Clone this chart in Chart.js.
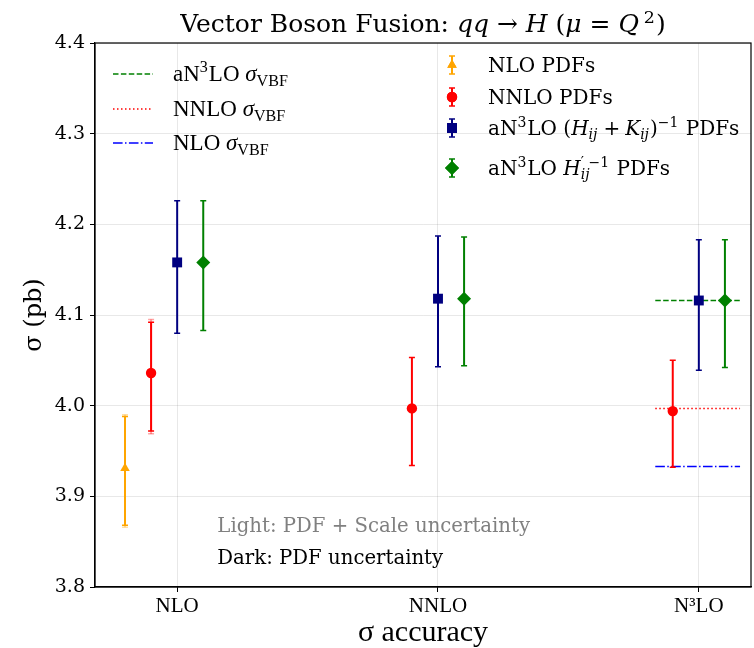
<!DOCTYPE html>
<html>
<head>
<meta charset="utf-8">
<script src="https://cdn.jsdelivr.net/npm/chart.js@4"></script>
<style>
  html, body { margin: 0; padding: 0; background: #fff; }
  #wrap { width: 754px; height: 648px; }
</style>
</head>
<body>
<div id="wrap"><canvas id="vbf-chart"></canvas></div>
<script>
const categories = ['NLO', 'NNLO', 'N³LO'];
const yTicks = [3.8, 3.9, 4.0, 4.1, 4.2, 4.3, 4.4];

// NLO PDFs (only evaluated with the NLO cross section)
const nloPdfCentral = [3.931, null, null];
const nloPdfLow = [3.868, null, null];
const nloPdfHigh = [3.988, null, null];
const nloPdfLightLow = [3.866, null, null];
const nloPdfLightHigh = [3.990, null, null];

// NNLO PDFs
const nnloPdfCentral = [4.036, 3.997, 3.994];
const nnloPdfLow = [3.972, 3.934, 3.932];
const nnloPdfHigh = [4.092, 4.053, 4.050];
const nnloPdfLightLow = [3.969, null, null];
const nnloPdfLightHigh = [4.095, null, null];

// aN3LO (H+K)^-1 PDFs
const hkPdfCentral = [4.158, 4.118, 4.116];
const hkPdfLow = [4.080, 4.043, 4.039];
const hkPdfHigh = [4.226, 4.187, 4.183];

// aN3LO H'^-1 PDFs
const hPdfCentral = [4.158, 4.118, 4.116];
const hPdfLow = [4.083, 4.044, 4.042];
const hPdfHigh = [4.226, 4.186, 4.183];

// reference cross sections drawn at the N3LO column
const vbfLabels = ['aN3LO', 'NNLO', 'NLO'];
const vbfSigma = [4.116, 3.997, 3.933];

const SERIF = 'DejaVu Serif';
const CM = 'Liberation Serif';
const dodge = [-0.2, -0.1, 0, 0.1];
const PLOT_RIGHT = 751;

const toPoints = (vals, off) => vals
  .map((v, i) => v === null ? null : { x: i + off, y: v })
  .filter(p => p !== null);

const withAlpha = (hex, a) => {
  const n = parseInt(hex.slice(1), 16);
  return `rgba(${n >> 16}, ${(n >> 8) & 255}, ${n & 255}, ${a})`;
};

const pdfSeries = [
  { label: 'NLO PDFs', color: '#FFA500', style: 'triangle', radius: 5.5,
    central: nloPdfCentral, low: nloPdfLow, high: nloPdfHigh, lightLow: nloPdfLightLow, lightHigh: nloPdfLightHigh },
  { label: 'NNLO PDFs', color: '#FF0000', style: 'circle', radius: 5.2,
    central: nnloPdfCentral, low: nnloPdfLow, high: nnloPdfHigh, lightLow: nnloPdfLightLow, lightHigh: nnloPdfLightHigh },
  { label: 'aN3LO (H+K)^-1 PDFs', color: '#000080', style: 'rect', radius: 7,
    central: hkPdfCentral, low: hkPdfLow, high: hkPdfHigh },
  { label: "aN3LO H'^-1 PDFs", color: '#008000', style: 'rectRot', radius: 7,
    central: hPdfCentral, low: hPdfLow, high: hPdfHigh }
];

const vbfStyles = [
  { color: '#008000', dash: [5.5, 2.4] },
  { color: '#FF0000', dash: [1.5, 2.5] },
  { color: '#0000FF', dash: [9.6, 2.4, 1.5, 2.4] }
];

const datasets = [];
pdfSeries.forEach((s, k) => {
  datasets.push({
    label: s.label,
    data: toPoints(s.central, dodge[k]),
    pointStyle: s.style,
    pointRadius: s.radius,
    pointHoverRadius: s.radius,
    backgroundColor: s.color,
    borderColor: s.color,
    borderWidth: 0,
    order: 0,
    errSeries: k
  });
});
vbfSigma.forEach((v, k) => {
  datasets.push({
    label: vbfLabels[k],
    type: 'line',
    data: [{ x: 2 - 0.167, y: v }, { x: 2 + 0.158, y: v }],
    borderColor: vbfStyles[k].color,
    borderDash: vbfStyles[k].dash,
    borderWidth: 1.5,
    pointRadius: 0,
    fill: false,
    order: 1
  });
});

// rich text: segments {t, it} or {sup, sub, it, supUp}
const fontOf = (it, size, family) => `${it ? 'italic ' : ''}${size}px "${family}"`;

const richWidth = (ctx, segs, size, family) => {
  let w = 0;
  segs.forEach(s => {
    if (s.t !== undefined) {
      ctx.font = fontOf(s.it, size, family);
      w += ctx.measureText(s.t).width;
    } else {
      const small = size * 0.7;
      let a = 0, b = 0;
      if (s.sup) { ctx.font = fontOf(s.it && !s.supUp, small, family); a = ctx.measureText(s.sup).width; }
      if (s.sub) { ctx.font = fontOf(s.it, small, family); b = ctx.measureText(s.sub).width; }
      w += Math.max(a, b) + 1;
    }
  });
  return w;
};

const drawRich = (ctx, segs, x, y, size, family, color, align) => {
  ctx.save();
  ctx.fillStyle = color;
  ctx.textBaseline = 'alphabetic';
  ctx.textAlign = 'left';
  let cx = align === 'center' ? x - richWidth(ctx, segs, size, family) / 2 : x;
  segs.forEach(s => {
    if (s.t !== undefined) {
      ctx.font = fontOf(s.it, size, family);
      ctx.fillText(s.t, cx, y);
      cx += ctx.measureText(s.t).width;
    } else {
      const small = size * 0.7;
      let w = 0;
      if (s.sup) {
        ctx.font = fontOf(s.it && !s.supUp, small, family);
        ctx.fillText(s.sup, cx, y - size * 0.38);
        w = Math.max(w, ctx.measureText(s.sup).width);
      }
      if (s.sub) {
        ctx.font = fontOf(s.it, small, family);
        ctx.fillText(s.sub, cx, y + size * 0.22);
        w = Math.max(w, ctx.measureText(s.sub).width);
      }
      cx += w + 1;
    }
  });
  ctx.restore();
};

const drawErrorBar = (ctx, x, yLo, yHi, color) => {
  ctx.strokeStyle = color;
  ctx.lineWidth = 2;
  ctx.beginPath();
  ctx.moveTo(x, yLo);
  ctx.lineTo(x, yHi);
  ctx.stroke();
  ctx.lineWidth = 1.5;
  ctx.beginPath();
  ctx.moveTo(x - 3, yLo); ctx.lineTo(x + 3, yLo);
  ctx.moveTo(x - 3, yHi); ctx.lineTo(x + 3, yHi);
  ctx.stroke();
};

// stretch the plot area to the right edge used by the original figure
const plotAreaPlugin = {
  id: 'plotArea',
  afterLayout(chart) {
    const x = chart.scales.x;
    const a = chart.chartArea;
    x.right = PLOT_RIGHT;
    x.width = x.right - x.left;
    x.configure();
    a.right = PLOT_RIGHT;
    a.width = a.right - a.left;
  }
};

const errorBarPlugin = {
  id: 'errorBars',
  beforeDatasetDraw(chart, args) {
    const ds = chart.data.datasets[args.index];
    if (ds.errSeries === undefined) return;
    const s = pdfSeries[ds.errSeries];
    const { ctx, scales: { x, y } } = chart;
    ctx.save();
    s.central.forEach((v, i) => {
      if (v === null) return;
      const px = x.getPixelForValue(i + dodge[ds.errSeries]);
      if (s.lightLow && s.lightLow[i] !== null) {
        drawErrorBar(ctx, px, y.getPixelForValue(s.lightLow[i]), y.getPixelForValue(s.lightHigh[i]), withAlpha(s.color, 0.35));
      }
      drawErrorBar(ctx, px, y.getPixelForValue(s.low[i]), y.getPixelForValue(s.high[i]), s.color);
    });
    ctx.restore();
  }
};

const titleSegs = [
  { t: 'Vector Boson Fusion: ' }, { t: 'qq', it: true }, { t: ' → ' }, { t: 'H', it: true },
  { t: ' (' }, { t: 'μ', it: true }, { t: ' = ' }, { t: 'Q', it: true }, { t: '\u2009' }, { sup: '2' }, { t: ')' }
];

const vbfLegend = [
  [{ t: 'aN' }, { sup: '3' }, { t: 'LO ' }, { t: 'σ', it: true }, { sub: 'VBF' }],
  [{ t: 'NNLO ' }, { t: 'σ', it: true }, { sub: 'VBF' }],
  [{ t: 'NLO ' }, { t: 'σ', it: true }, { sub: 'VBF' }]
];

const pdfLegend = [
  [{ t: 'NLO PDFs' }],
  [{ t: 'NNLO PDFs' }],
  [{ t: 'aN' }, { sup: '3' }, { t: 'LO (' }, { t: 'H', it: true }, { sub: 'ij', it: true }, { t: '\u2005+\u2005' },
   { t: 'K', it: true }, { sub: 'ij', it: true }, { t: ')' }, { sup: '−1' }, { t: ' PDFs' }],
  [{ t: 'aN' }, { sup: '3' }, { t: 'LO ' }, { t: 'H', it: true }, { sup: '′ −1', sub: 'ij', it: true, supUp: true }, { t: ' PDFs' }]
];

const decorPlugin = {
  id: 'decor',
  afterDraw(chart) {
    const { ctx, chartArea: a, scales: { x, y } } = chart;
    ctx.save();
    // frame
    ctx.strokeStyle = '#000';
    ctx.lineWidth = 1.2;
    ctx.strokeRect(a.left, a.top, a.right - a.left, a.bottom - a.top);

    // title
    drawRich(ctx, titleSegs, (a.left + a.right) / 2, 32, 25, SERIF, '#000', 'center');

    // left legend: reference cross sections
    const rowY = [74, 109, 143];
    vbfLegend.forEach((segs, k) => {
      ctx.strokeStyle = vbfStyles[k].color;
      ctx.setLineDash(vbfStyles[k].dash);
      ctx.lineWidth = 1.5;
      ctx.beginPath();
      ctx.moveTo(113, rowY[k]);
      ctx.lineTo(153, rowY[k]);
      ctx.stroke();
      ctx.setLineDash([]);
      drawRich(ctx, segs, 173, rowY[k] + 7, 23, CM, '#000', 'left');
    });

    // right legend: PDF sets
    const pdfRowY = [65, 97, 128, 168];
    pdfSeries.forEach((s, k) => {
      const cy = pdfRowY[k];
      drawErrorBar(ctx, 452, cy - 9, cy + 9, s.color);
      ctx.fillStyle = s.color;
      ctx.beginPath();
      Chart.helpers.drawPoint(ctx, { pointStyle: s.style, radius: s.radius, borderWidth: 0 }, 452, cy);
      ctx.fill();
      drawRich(ctx, pdfLegend[k], 488, cy + 7, 20, SERIF, '#000', 'left');
    });

    // note on the error bars
    const nx = x.getPixelForValue(0.154);
    drawRich(ctx, [{ t: 'Light: PDF + Scale uncertainty' }], nx, y.getPixelForValue(3.868) + 7, 19.7, SERIF, '#808080', 'left');
    drawRich(ctx, [{ t: 'Dark: PDF uncertainty' }], nx, y.getPixelForValue(3.833) + 7, 19.7, SERIF, '#000', 'left');
    ctx.restore();
  }
};

const ctx = document.getElementById('vbf-chart');
new Chart(ctx, {
  type: 'scatter',
  data: { datasets },
  options: {
    responsive: true,
    maintainAspectRatio: false,
    animation: false,
    layout: { padding: { left: 0, right: 3, top: 43, bottom: 0 } },
    scales: {
      x: {
        type: 'linear',
        min: -0.315,
        max: 2.2,
        afterFit: s => { s.height = 61; },
        afterBuildTicks: s => { s.ticks = categories.map((c, i) => ({ value: i })); },
        ticks: {
          color: '#000',
          padding: 2,
          maxRotation: 0,
          font: { family: CM, size: 21 },
          callback: v => categories[v]
        },
        grid: { color: 'rgba(0, 0, 0, 0.09)', lineWidth: 1, tickColor: '#000', tickLength: 5 },
        border: { color: '#000', width: 1.2 },
        title: {
          display: true,
          text: 'σ accuracy',
          color: '#000',
          font: { family: CM, size: 30, lineHeight: 1.0 },
          padding: { top: 0, bottom: 0 }
        }
      },
      y: {
        min: 3.8,
        max: 4.4,
        afterFit: s => { s.width = 95; },
        afterBuildTicks: s => { s.ticks = yTicks.map(v => ({ value: v })); },
        ticks: {
          color: '#000',
          padding: 5,
          font: { family: SERIF, size: 19 },
          callback: v => v.toFixed(1)
        },
        grid: { color: 'rgba(0, 0, 0, 0.09)', lineWidth: 1, tickColor: '#000', tickLength: 5 },
        border: { color: '#000', width: 1.2 },
        title: {
          display: true,
          text: 'σ (pb)',
          color: '#000',
          font: { family: SERIF, size: 24 },
          padding: { top: 20, bottom: 0 }
        }
      }
    },
    plugins: {
      legend: { display: false },
      tooltip: { enabled: false }
    }
  },
  plugins: [plotAreaPlugin, errorBarPlugin, decorPlugin]
});
</script>
</body>
</html>
